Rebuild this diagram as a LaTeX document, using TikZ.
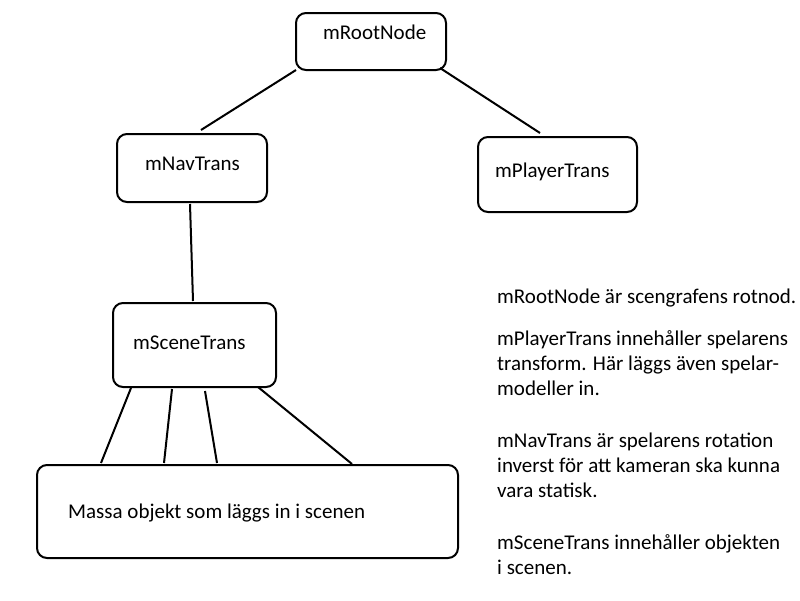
\documentclass[tikz,border=0pt]{standalone}
\usepackage{fontspec}
\setmainfont{Carlito}
\begin{document}
\begin{tikzpicture}[x=1pt,y=-1pt,
  box/.style={draw,line width=2pt,rounded corners=10pt},
  lbl/.style={anchor=base west,inner sep=0pt,font=\fontsize{21}{25}\selectfont},
  conn/.style={line width=2pt}]
\useasboundingbox (0,0) rectangle (800,600);
% boxes
\draw[box] (296,13) rectangle (446,70);
\draw[box] (117,134) rectangle (267,202);
\draw[box] (478,137) rectangle (637,212);
\draw[box] (113,303) rectangle (276,387);
\draw[box] (37,465) rectangle (458,558);
% labels
\node[lbl] (root) at (323,39) {mRootNode};
\node[lbl] (nav) at (145,170) {mNavTrans};
\node[lbl] (player) at (495,177) {mPlayerTrans};
\node[lbl] (scene) at (133,349) {mSceneTrans};
\node[lbl] (massa) at (68,518) {Massa objekt som läggs in i scenen};
% connectors
\coordinate (a1) at (296,70); \coordinate (a2) at (201,130);
\coordinate (b1) at (440,68); \coordinate (b2) at (540,133);
\coordinate (c1) at (190,204); \coordinate (c2) at (193,301);
\coordinate (d1) at (131,388); \coordinate (d2) at (101,463);
\coordinate (e1) at (172,389); \coordinate (e2) at (164,463);
\coordinate (f1) at (205,391); \coordinate (f2) at (217,463);
\coordinate (g1) at (258,387); \coordinate (g2) at (352,464);
\draw[conn] (a1) -- (a2);
\draw[conn] (b1) -- (b2);
\draw[conn] (c1) -- (c2);
\draw[conn] (d1) -- (d2);
\draw[conn] (e1) -- (e2);
\draw[conn] (f1) -- (f2);
\draw[conn] (g1) -- (g2);
% description
\node[lbl] (t1) at (497,303) {mRootNode är scengrafens rotnod.};
\node[lbl] (t2) at (497,345) {mPlayerTrans innehåller spelarens};
\node[lbl] (t3) at (497,370) {transform. Här läggs även spelar-};
\node[lbl] (t4) at (497,395) {modeller in.};
\node[lbl] (t5) at (497,447) {mNavTrans är spelarens rotation};
\node[lbl] (t6) at (497,472) {inverst för att kameran ska kunna};
\node[lbl] (t7) at (497,497) {vara statisk.};
\node[lbl] (t8) at (497,549) {mSceneTrans innehåller objekten};
\node[lbl] (t9) at (497,574) {i scenen.};
\end{tikzpicture}
\end{document}
